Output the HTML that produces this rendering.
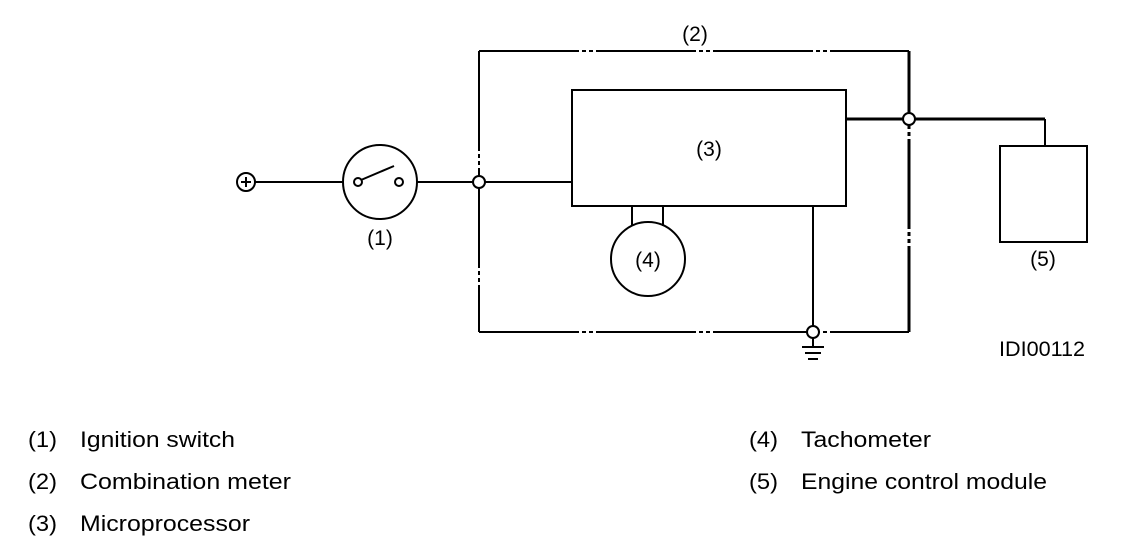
<!DOCTYPE html>
<html><head><meta charset="utf-8"><style>
html,body{margin:0;padding:0;background:#fff;}
svg{display:block;}
text{font-family:"Liberation Sans",Arial,sans-serif;fill:#000;}
</style></head><body>
<svg width="1136" height="554" viewBox="0 0 1136 554" xmlns="http://www.w3.org/2000/svg">
<g stroke="#000" fill="none" stroke-width="2">
  <path d="M479 51 H909" stroke-dasharray="100 3 4 3 4 3"/>
  <path d="M479 51 V332" stroke-dasharray="100 3 4 3 4 3"/>
  <path d="M479 332 H909" stroke-dasharray="100 3 4 3 4 3"/>
  <path d="M909 51 V119" stroke-width="3"/>
  <path d="M909 125 V332" stroke-width="3" stroke-dasharray="4 3 4 3 90 3"/>
  <line x1="254" y1="182" x2="343" y2="182"/>
  <line x1="417" y1="182" x2="572" y2="182"/>
  <circle cx="380" cy="182" r="37"/>
  <line x1="361" y1="180" x2="394" y2="166"/>
  <circle cx="246" cy="182" r="9"/>
  <line x1="241" y1="182" x2="251" y2="182"/>
  <line x1="246" y1="177" x2="246" y2="187"/>
  <rect x="572" y="90" width="274" height="116"/>
  <line x1="846" y1="119" x2="1045" y2="119" stroke-width="3"/>
  <line x1="1045" y1="119" x2="1045" y2="146"/>
  <rect x="1000" y="146" width="87" height="96"/>
  <line x1="632" y1="206" x2="632" y2="226"/>
  <line x1="663" y1="206" x2="663" y2="226"/>
  <circle cx="648" cy="259" r="37"/>
  <line x1="813" y1="206" x2="813" y2="332"/>
  <line x1="813" y1="332" x2="813" y2="347"/>
  <line x1="802" y1="347" x2="824" y2="347"/>
  <line x1="805" y1="353" x2="821" y2="353"/>
  <line x1="808" y1="359" x2="818" y2="359"/>
</g>
<g stroke="#000" stroke-width="2" fill="#fff">
  <circle cx="358" cy="182" r="4"/>
  <circle cx="399" cy="182" r="4"/>
  <circle cx="479" cy="182" r="6"/>
  <circle cx="909" cy="119" r="6"/>
  <circle cx="813" cy="332" r="6"/>
</g>
<g font-size="21" text-anchor="middle">
  <text x="380" y="245">(1)</text>
  <text x="695" y="41">(2)</text>
  <text x="709" y="156">(3)</text>
  <text x="648" y="267">(4)</text>
  <text x="1043" y="266">(5)</text>
</g>
<text x="999" y="356" font-size="21" textLength="86" lengthAdjust="spacingAndGlyphs">IDI00112</text>
<g font-size="22">
  <text x="28" y="447" textLength="29" lengthAdjust="spacingAndGlyphs">(1)</text><text x="80" y="447" textLength="155" lengthAdjust="spacingAndGlyphs">Ignition switch</text>
  <text x="28" y="489" textLength="29" lengthAdjust="spacingAndGlyphs">(2)</text><text x="80" y="489" textLength="211" lengthAdjust="spacingAndGlyphs">Combination meter</text>
  <text x="28" y="531" textLength="29" lengthAdjust="spacingAndGlyphs">(3)</text><text x="80" y="531" textLength="170" lengthAdjust="spacingAndGlyphs">Microprocessor</text>
  <text x="749" y="447" textLength="29" lengthAdjust="spacingAndGlyphs">(4)</text><text x="801" y="447" textLength="130" lengthAdjust="spacingAndGlyphs">Tachometer</text>
  <text x="749" y="489" textLength="29" lengthAdjust="spacingAndGlyphs">(5)</text><text x="801" y="489" textLength="246" lengthAdjust="spacingAndGlyphs">Engine control module</text>
</g>
</svg>
</body></html>
